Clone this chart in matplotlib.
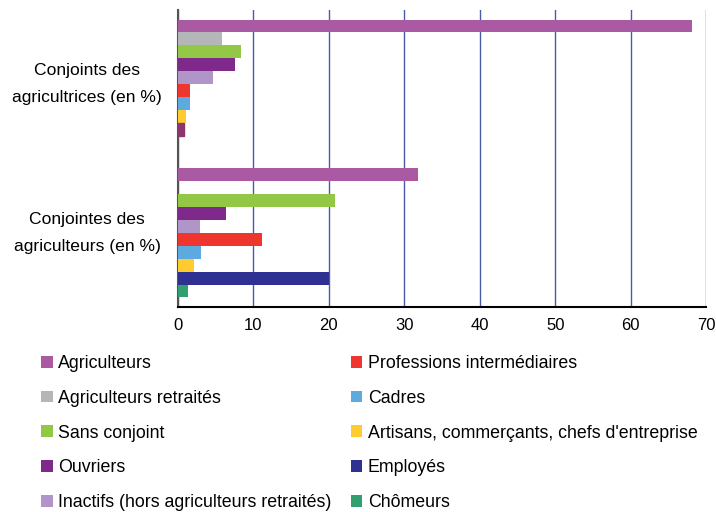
import matplotlib
matplotlib.use("Agg")
import matplotlib.pyplot as plt
import matplotlib.transforms as mtransforms
import numpy as np

groups = ["Conjointes des\nagriculteurs (en %)", "Conjoints des\nagricultrices (en %)"]
series = ["Agriculteurs", "Agriculteurs retraités", "Sans conjoint", "Ouvriers",
          "Inactifs (hors agriculteurs retraités)", "Professions intermédiaires",
          "Cadres", "Artisans, commerçants, chefs d'entreprise", "Employés", "Chômeurs"]
# values: [conjointes des agriculteurs, conjoints des agricultrices]
agriculteurs = [31.8, 68.2]
retraites = [0.0, 5.8]
sans_conjoint = [20.8, 8.4]
ouvriers = [6.3, 7.6]
inactifs = [2.9, 4.7]
professions = [11.1, 1.6]
cadres = [3.1, 1.6]
artisans = [2.1, 1.0]
employes = [20.0, 0.75]
chomeurs = [1.3, 0.0]
values = [agriculteurs, retraites, sans_conjoint, ouvriers, inactifs,
          professions, cadres, artisans, employes, chomeurs]
colors = ["#AA59A3", "#B5B6B8", "#92C846", "#7F2A8A", "#B095C8",
          "#EE352E", "#5CAAE0", "#FFCB2F", "#2E3192", "#30A070"]

fig = plt.figure(figsize=(7.16, 5.12), dpi=100)
ax = fig.add_axes([178/716, 1-307/512, 528/716, 297/512])

h = 0.0872
y = np.arange(len(groups))
for i, (name, vals) in enumerate(zip(series, values)):
    ax.barh(y + (4.5 - i) * h, vals, height=h, color=colors[i], label=name, zorder=3)
# the small Employés bar in the top group is drawn in another shade in the source
ax.patches[8*2 + 1].set_color("#8C3670")

ax.set_xlim(0, 70)
ax.set_ylim(-0.5, 1.5)
ax.set_xticks(np.arange(0, 71, 10))
ax.set_yticks(y)
ax.set_yticklabels(groups, fontsize=12.6, family="Liberation Sans",
                   multialignment="center", linespacing=2.0)
shift = mtransforms.ScaledTranslation(0, -1.5/72, fig.dpi_scale_trans)
for lab in ax.get_yticklabels():
    lab.set_horizontalalignment("center")
    lab.set_verticalalignment("center")
    lab.set_transform(lab.get_transform() + shift)
ax.tick_params(axis="y", length=0, pad=65.5)
ax.tick_params(axis="x", length=0, pad=8, labelsize=12)
for lab in ax.get_xticklabels():
    lab.set_family("Liberation Sans")
ax.grid(axis="x", color="#4A5BAA", linewidth=1, zorder=0)
ax.spines["top"].set_visible(False)
ax.spines["right"].set_visible(False)
ax.spines["left"].set_color("#555555")
ax.spines["left"].set_linewidth(1.5)
ax.spines["bottom"].set_color("black")
ax.spines["bottom"].set_linewidth(1.5)

handles, labels = ax.get_legend_handles_labels()
fig.legend(handles, labels, ncol=2, loc="upper left",
           bbox_to_anchor=(41/716, 1-355/512), frameon=False,
           borderpad=0, borderaxespad=0, handlelength=0.65, handleheight=0.65,
           handletextpad=0.3, labelspacing=1.0, columnspacing=1.1,
           prop={"family": "Liberation Sans", "size": 12.8})

fig.savefig("out.png", dpi=100)
